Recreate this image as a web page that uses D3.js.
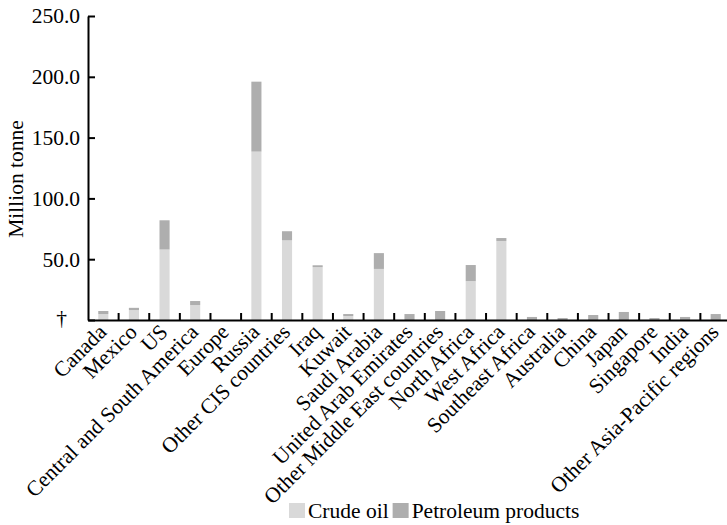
<!DOCTYPE html>
<html>
<head>
<meta charset="utf-8">
<script src="https://cdn.jsdelivr.net/npm/d3@7"></script>
<style>
  html, body { margin: 0; padding: 0; background: #fff; }
  svg text { font-family: "Liberation Serif", "Times New Roman", serif; fill: #000; }
</style>
</head>
<body>
<svg id="chart" width="727" height="525"></svg>
<script>
// Exports by origin, million tonnes
const regions = [
  "Canada", "Mexico", "US", "Central and South America", "Europe", "Russia",
  "Other CIS countries", "Iraq", "Kuwait", "Saudi Arabia", "United Arab Emirates",
  "Other Middle East countries", "North Africa", "West Africa", "Southeast Africa",
  "Australia", "China", "Japan", "Singapore", "India", "Other Asia-Pacific regions"
];
const crudeOil = [4.9, 8.2, 58, 12.3, 0, 138.5, 65.5, 43.5, 3.3, 42, 0, 0, 32, 65, 0, 0, 0, 0, 0, 0, 0];
const petroleumProducts = [2.5, 1.8, 24, 3.3, 0, 57.5, 7.5, 1.5, 1.6, 13, 4.9, 7.4, 13.2, 2.4, 2.5, 1.6, 4.1, 6.6, 1.6, 2.5, 4.9];
const seriesNames = ["Crude oil", "Petroleum products"];
const seriesColors = ["#d9d9d9", "#aeaeae"];
const yTicks = [0, 50, 100, 150, 200, 250];

const rows = regions.map((r, i) => ({ region: r, "Crude oil": crudeOil[i], "Petroleum products": petroleumProducts[i] }));
const stacked = d3.stack().keys(seriesNames)(rows);

const svg = d3.select("#chart");
const FONT = 21.5;
const plotLeft = 88, plotRight = 731, plotTop = 16, plotBottom = 320;

const x = d3.scaleBand().domain(regions).range([plotLeft, plotRight]).paddingInner(0.67).paddingOuter(0.335);
const y = d3.scaleLinear().domain([0, 250]).range([plotBottom, plotTop]);
const color = d3.scaleOrdinal().domain(seriesNames).range(seriesColors);
const step = x.step();

// Stacked bars
svg.append("g").selectAll("g").data(stacked).join("g")
  .attr("fill", d => color(d.key))
  .selectAll("rect").data(d => d).join("rect")
  .attr("x", d => x(d.data.region))
  .attr("width", x.bandwidth())
  .attr("y", d => y(d[1]))
  .attr("height", d => y(d[0]) - y(d[1]));

// Y axis with inward ticks
const yAxis = svg.append("g").attr("transform", `translate(${plotLeft},0)`)
  .call(d3.axisLeft(y).tickValues(yTicks).tickSize(-7).tickPadding(8).tickSizeOuter(0)
    .tickFormat(d => d === 0 ? "\u2020" : d.toFixed(1)));
yAxis.select(".domain").attr("stroke", "#000").attr("stroke-width", 2);
yAxis.selectAll(".tick line").attr("stroke", "#000").attr("stroke-width", 2);
yAxis.selectAll(".tick text").attr("font-size", FONT).attr("font-family", null).attr("dy", "0.32em");
yAxis.selectAll(".tick").filter(d => d === 0).select("text").attr("x", -21).attr("dy", "0.2em");

// X axis: baseline, separators between categories, slanted labels
const xAxis = svg.append("g").attr("transform", `translate(0,${plotBottom})`)
  .call(d3.axisBottom(x).tickSize(0).tickSizeOuter(0).tickFormat(""));
xAxis.select(".domain").attr("stroke", "#000").attr("stroke-width", 2);
xAxis.selectAll(".tick text").remove();

const center = r => x(r) + x.bandwidth() / 2;
svg.append("g").selectAll("line").data(regions).join("line")
  .attr("x1", d => center(d) + step / 2).attr("x2", d => center(d) + step / 2)
  .attr("y1", plotBottom).attr("y2", plotBottom - 7)
  .attr("stroke", "#000").attr("stroke-width", 2);

svg.append("g").selectAll("text").data(regions).join("text")
  .attr("transform", d => `translate(${center(d) - 1},${plotBottom + 8}) rotate(-45)`)
  .attr("text-anchor", "end")
  .attr("dy", "0.35em")
  .attr("font-size", FONT)
  .text(d => d);

// Y axis title
svg.append("text")
  .attr("transform", "translate(23,179) rotate(-90)")
  .attr("text-anchor", "middle")
  .attr("font-size", FONT)
  .text("Million tonne");

// Legend
const legend = svg.append("g").attr("transform", "translate(289,503)");
let lx = 0;
seriesNames.forEach(name => {
  legend.append("rect").attr("x", lx).attr("y", 0).attr("width", 16).attr("height", 15).attr("fill", color(name));
  const t = legend.append("text").attr("x", lx + 19).attr("y", 14.5).attr("font-size", FONT).text(name);
  lx += 19 + t.node().getComputedTextLength() + 4;
});
</script>
</body>
</html>
